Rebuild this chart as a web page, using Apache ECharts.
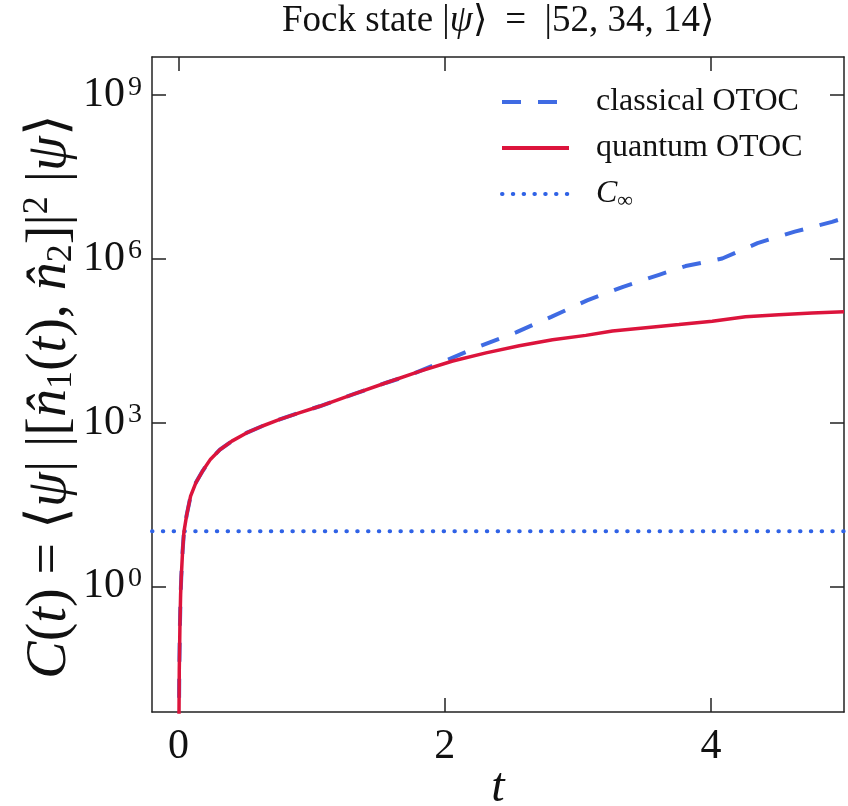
<!DOCTYPE html>
<html>
<head>
<meta charset="utf-8">
<script src="https://cdn.jsdelivr.net/npm/echarts@6/dist/echarts.min.js"></script>
<style>
html, body { margin: 0; padding: 0; background: #fff; }
#chart { width: 848px; height: 806px; }
</style>
</head>
<body>
<div id="chart"></div>
<script>
// time points and OTOC values
var tQuantum = [0.002, 0.005, 0.01, 0.015, 0.02, 0.03, 0.04, 0.06, 0.09, 0.13, 0.18, 0.24, 0.31, 0.40, 0.51, 0.63, 0.76, 0.90, 1.06, 1.31, 1.56, 1.81, 2.06, 2.31, 2.56, 2.81, 3.06, 3.26, 3.51, 3.76, 4.01, 4.26, 4.51, 4.76, 5.00];
var cQuantum = [0.002, 0.03, 0.2, 0.7, 1.5, 4.5, 10, 20, 45, 80, 130, 215, 320, 460, 650, 870, 1150, 1500, 2000, 3300, 5400, 8700, 13500, 19000, 25700, 33000, 39800, 47900, 55000, 63000, 72400, 87000, 95500, 102000, 108000];
var tClassical = [0.002, 0.005, 0.01, 0.015, 0.02, 0.03, 0.04, 0.06, 0.09, 0.13, 0.18, 0.24, 0.31, 0.40, 0.51, 0.63, 0.76, 0.90, 1.06, 1.31, 1.56, 1.72, 1.99, 2.26, 2.54, 2.80, 3.07, 3.34, 3.61, 3.81, 4.085, 4.35, 4.63, 4.91, 5.00];
var cClassical = [0.002, 0.03, 0.2, 0.7, 1.5, 4.5, 10, 20, 45, 80, 130, 215, 320, 460, 650, 870, 1150, 1500, 2000, 3300, 5400, 7200, 13200, 25100, 45700, 87100, 174000, 309000, 513000, 741000, 1020000, 1950000, 3160000, 4790000, 5600000];
var cInfinity = 10.3;

var tRange = [-0.2, 5];
var logRange = [-2.3, 9.7];
var xTicks = [0, 2, 4];
var yTickExps = [0, 3, 6, 9];

var FONT = 'Liberation Serif';
var INK = '#111';

function toLog(ts, cs) {
    return ts.map(function (t, i) { return [t, Math.log10(cs[i])]; });
}

var frameLine = { show: true, onZero: false, lineStyle: { color: '#222', width: 1.5 } };
var frameTick = { show: true, inside: true, length: 14, lineStyle: { color: '#222', width: 1.5 } };

var myChart = echarts.init(document.getElementById('chart'), null, { renderer: 'canvas' });

var option = {
    animation: false,
    backgroundColor: '#fff',
    title: {
        text: 'Fock state |{i|ψ}⟩\u2002=\u2002|52, 34, 14⟩',
        left: 282,
        top: 3,
        padding: 0,
        textStyle: {
            fontFamily: FONT, fontSize: 37, fontWeight: 'normal', color: INK,
            rich: { i: { fontFamily: FONT, fontSize: 37, fontStyle: 'italic', color: INK } }
        }
    },
    grid: { left: 152, right: 4, top: 57, bottom: 94, containLabel: false, outerBoundsMode: 'none' },
    legend: {
        orient: 'vertical',
        left: 500,
        top: 86,
        padding: 0,
        itemWidth: 67,
        itemHeight: 14,
        itemGap: 14,
        itemStyle: { opacity: 0 },
        lineStyle: { width: 4 },
        data: ['classical OTOC', 'quantum OTOC', 'C∞'],
        formatter: function (name) {
            return name === 'C∞' ? '{i|C}{sub|∞}' : name;
        },
        textStyle: {
            fontFamily: FONT, fontSize: 32, color: INK, padding: [0, 0, 0, 22],
            rich: {
                i: { fontFamily: FONT, fontSize: 32, fontStyle: 'italic', color: INK, lineHeight: 36 },
                sub: { fontFamily: FONT, fontSize: 22, color: INK, lineHeight: 22, verticalAlign: 'bottom' }
            }
        }
    },
    xAxis: [
        {
            type: 'value', position: 'bottom', min: tRange[0], max: tRange[1],
            axisLine: frameLine, axisTick: Object.assign({ customValues: xTicks }, frameTick),
            axisLabel: { customValues: xTicks, fontFamily: FONT, fontSize: 42, color: INK, margin: 14 },
            splitLine: { show: false },
            name: 't', nameLocation: 'middle', nameGap: 52, nameMoveOverlap: false,
            nameTextStyle: { fontFamily: FONT, fontSize: 48, fontStyle: 'italic', color: INK }
        },
        {
            type: 'value', position: 'top', min: tRange[0], max: tRange[1],
            axisLine: frameLine, axisTick: Object.assign({ customValues: xTicks }, frameTick),
            axisLabel: { show: false }, splitLine: { show: false }
        }
    ],
    yAxis: [
        {
            type: 'value', position: 'left', min: logRange[0], max: logRange[1],
            axisLine: frameLine, axisTick: Object.assign({ customValues: yTickExps }, frameTick),
            axisLabel: {
                customValues: yTickExps, margin: 10, color: INK,
                formatter: function (v) { return '{b|10}{s|' + v + '}'; },
                rich: {
                    b: { fontFamily: FONT, fontSize: 42, color: INK, lineHeight: 44 },
                    s: { fontFamily: FONT, fontSize: 28, color: INK, lineHeight: 28, verticalAlign: 'top', padding: [0, 0, 0, 3] }
                }
            },
            splitLine: { show: false },
            name: '{i|C}({i|t}) = ⟨{i|ψ}| |[{i|n\u0302}{sub|1}({i|t}), {i|n\u0302}{sub|2}]|{sup|2} |{i|ψ}⟩',
            nameLocation: 'middle', nameGap: 72, nameMoveOverlap: false,
            nameTextStyle: {
                fontFamily: FONT, fontSize: 56, color: INK, lineHeight: 60, padding: [0, 24, 0, 0],
                rich: {
                    i: { fontFamily: FONT, fontSize: 56, fontStyle: 'italic', color: INK, lineHeight: 60 },
                    sub: { fontFamily: FONT, fontSize: 36, color: INK, lineHeight: 32, verticalAlign: 'bottom' },
                    sup: { fontFamily: FONT, fontSize: 36, color: INK, lineHeight: 32, verticalAlign: 'top' }
                }
            }
        },
        {
            type: 'value', position: 'right', min: logRange[0], max: logRange[1],
            axisLine: frameLine, axisTick: Object.assign({ customValues: yTickExps }, frameTick),
            axisLabel: { show: false }, splitLine: { show: false }
        }
    ],
    series: [
        {
            name: 'C∞', type: 'line', showSymbol: false, symbol: 'none', z: 1,
            data: [[tRange[0], Math.log10(cInfinity)], [tRange[1], Math.log10(cInfinity)]],
            lineStyle: { color: '#2f62e6', width: 4, type: [0.5, 10.3], cap: 'round' },
            itemStyle: { color: '#2f62e6' }
        },
        {
            name: 'classical OTOC', type: 'line', showSymbol: false, symbol: 'none', z: 2,
            data: toLog(tClassical, cClassical),
            lineStyle: { color: '#3f6be3', width: 4, type: [19, 17] },
            itemStyle: { color: '#3f6be3' }
        },
        {
            name: 'quantum OTOC', type: 'line', showSymbol: false, symbol: 'none', z: 3,
            data: toLog(tQuantum, cQuantum),
            lineStyle: { color: '#dc143c', width: 3.5 },
            itemStyle: { color: '#dc143c' }
        }
    ]
};

myChart.setOption(option);
window.onresize = function () {
    myChart.resize();
};
</script>
</body>
</html>
